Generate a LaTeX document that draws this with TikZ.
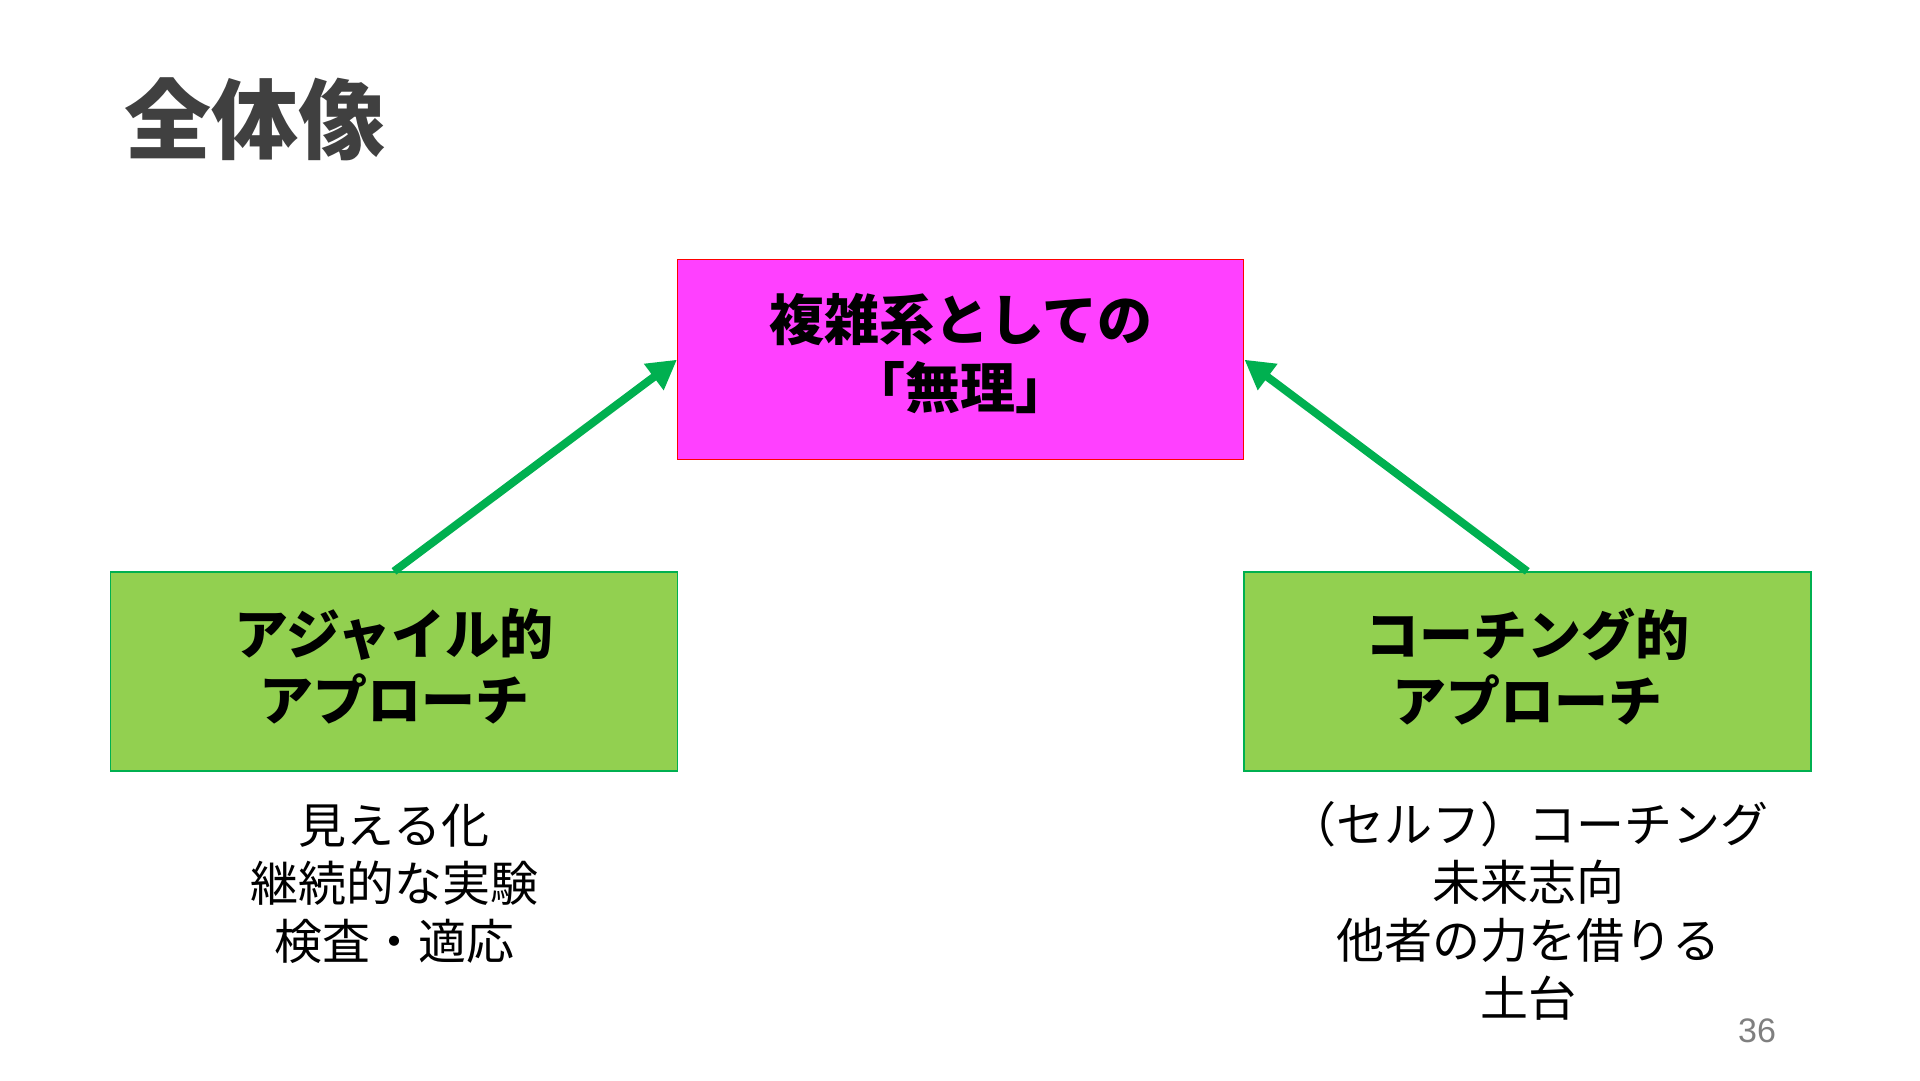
\documentclass[tikz,border=0pt]{standalone}
\usepackage{fontspec}
\setmainfont{Liberation Sans}
\newfontfamily\cjk{Noto Sans CJK JP}
\usetikzlibrary{arrows.meta}
\definecolor{titlegray}{HTML}{404040}
\definecolor{pinkfill}{HTML}{FF40FF}
\definecolor{greenfill}{HTML}{92D050}
\definecolor{greenline}{HTML}{00B050}
\definecolor{numgray}{HTML}{7F7F7F}
\tikzset{
  pinkbox/.style={draw=red, line width=1.5pt, fill=pinkfill, minimum width=566pt, minimum height=200pt, inner sep=0pt},
  greenbox/.style={draw=greenline, line width=1.5pt, fill=greenfill, minimum width=567pt, minimum height=199pt, inner sep=0pt},
  pinklabel/.style={align=center, inner sep=0pt, font=\cjk\bfseries\fontsize{55}{68}\selectfont},
  greenlabel/.style={align=center, inner sep=0pt, font=\cjk\bfseries\fontsize{54}{66}\selectfont},
  notetext/.style={align=center, inner sep=0pt, font=\cjk\fontsize{48}{58}\selectfont},
  greenarrow/.style={draw=greenline, line width=8pt, -{Triangle[length=29pt,width=31pt]}}
}
\begin{document}
\begin{tikzpicture}[x=1pt,y=-1pt]
\useasboundingbox[fill=white] (0,0) rectangle (1920,1080);
\node[anchor=west, inner sep=0pt, text=titlegray, font=\cjk\bfseries\fontsize{87}{100}\selectfont] (title) at (124,119) {全体像};
\node[pinkbox] (muri) at (960.7,359.7) {};
\node[pinklabel] (murilabel) at ([yshift=6pt]muri.center) {複雑系としての\\「無理」};
\node[greenbox] (agile) at (394,671.6) {};
\node[greenlabel] (agilelabel) at ([yshift=5pt]agile.center) {アジャイル的\\アプローチ};
\node[greenbox] (coach) at (1527.3,671.6) {};
\node[greenlabel] (coachlabel) at ([yshift=5pt]coach.center) {コーチング的\\アプローチ};
\node[notetext] (agilenote) at (394,884) {見える化\\継続的な実験\\検査・適応};
\node[notetext] (coachnote) at (1528,911) {（セルフ）コーチング\\未来志向\\他者の力を借りる\\土台};
\node[inner sep=0pt, text=numgray, font=\fontsize{34}{40}\selectfont] (pagenum) at (1757,1031) {36};
\draw[greenarrow] (agile.north) -- (muri.west);
\draw[greenarrow] (coach.north) -- (muri.east);
\end{tikzpicture}
\end{document}
